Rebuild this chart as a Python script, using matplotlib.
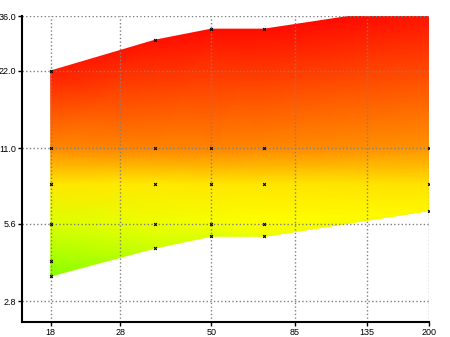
import numpy as np
import matplotlib
matplotlib.use("Agg")
import matplotlib.pyplot as plt
from matplotlib.colors import LinearSegmentedColormap, Normalize
from matplotlib.ticker import NullLocator

# sample columns (x) and the y points measured in each column
x_cols = [18, 35, 50, 70, 200]
y_18 = [3.5, 4.0, 5.6, 8.0, 11.0, 22.0]
y_35 = [4.5, 5.6, 8.0, 11.0, 29.0]
y_50 = [5.0, 5.6, 8.0, 11.0, 32.0]
y_70 = [5.0, 5.6, 8.0, 11.0, 32.0]
y_200 = [6.3, 8.0, 11.0, 40.0]

# colour value (hue, 0 = red, 60 = yellow, 120 = green) at each point
h_18 = [88, 82, 68, 54, 32, 7]
h_35 = [72, 64, 55, 31, 4]
h_50 = [68, 62, 54, 31, 3]
h_70 = [64, 60, 54, 32, 3]
h_200 = [58, 53, 35, 2]

x_ticks = [18, 28, 50, 85, 135, 200]
y_ticks = [2.8, 5.6, 11.0, 22.0, 36.0]

cols_y = [y_18, y_35, y_50, y_70, y_200]
cols_h = [h_18, h_35, h_50, h_70, h_200]

#pad every column to the same number of rows (repeat bottom point)
n = max(len(c) for c in cols_y)
Y = np.array([[c[0]] * (n - len(c)) + c for c in cols_y]).T
H = np.array([[c[0]] * (n - len(c)) + c for c in cols_h]).T
X = np.tile(np.array(x_cols, dtype=float), (n, 1))

cmap = LinearSegmentedColormap.from_list("hue", ["#ff0000", "#ffff00", "#00ff00"])

fig = plt.figure(figsize=(4.5, 3.37), dpi=100)
ax = fig.add_axes([0.049, 0.0445, 0.9045, 0.908])
ax.set_xscale("log")
ax.set_yscale("log")

ax.pcolormesh(X, Y, H, shading="gouraud", cmap=cmap, norm=Normalize(0, 120), zorder=1)

for x, ys in zip(x_cols, cols_y):
  ax.plot([x] * len(ys), ys, linestyle="none", marker="x", markersize=2,
          markeredgewidth=0.8, color="black", zorder=3)

ax.set_xlim(15, 200)
ax.set_ylim(2.32, 36)

ax.xaxis.set_minor_locator(NullLocator())
ax.yaxis.set_minor_locator(NullLocator())
ax.set_xticks(x_ticks)
ax.set_xticklabels([str(t) for t in x_ticks])
ax.set_yticks(y_ticks)
ax.set_yticklabels(["%.1f" % t for t in y_ticks])

ax.grid(True, linestyle=":", color="#808080", linewidth=1)
ax.tick_params(length=3, width=1, labelsize=6.5, pad=1, color="black")
for lab in ax.get_xticklabels() + ax.get_yticklabels():
  lab.set_family("Liberation Sans")

ax.spines["top"].set_visible(False)
ax.spines["right"].set_visible(False)
ax.spines["left"].set_linewidth(1.5)
ax.spines["bottom"].set_linewidth(1.5)

fig.savefig("out.png", dpi=100)
